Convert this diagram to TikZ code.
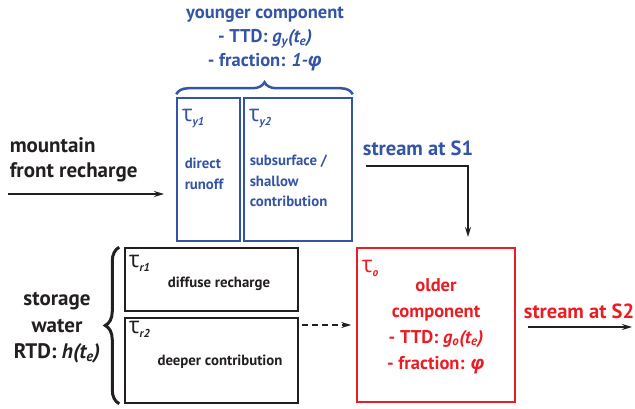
\documentclass[tikz,border=0pt]{standalone}
\usepackage{fontspec}
\setmainfont{PT Sans}
\newfontfamily\grkfont{Open Sans}
\usetikzlibrary{arrows.meta,decorations.pathreplacing}
\definecolor{ybl}{RGB}{52,84,165}
\definecolor{ored}{RGB}{236,28,36}
\definecolor{ink}{RGB}{35,31,32}
\newcommand{\taulab}[1]{{\grkfont\mdseries\fontsize{23}{23}\selectfont τ}\raisebox{-4pt}{\fontsize{11.5}{11.5}\selectfont\bfseries\itshape #1}}
\newcommand{\phisym}{{\grkfont\bfseries\itshape φ}}

\begin{document}
\begin{tikzpicture}[x=1pt,y=-1pt,->,>={Stealth[length=10pt,width=6pt]},shorten >=1pt,
                line width=1.5pt,
                txt/.style={font=\fontsize{18.5}{24.5}\selectfont\bfseries,align=center,inner sep=0pt},
                small/.style={font=\fontsize{14.8}{20.5}\selectfont\bfseries,inner sep=0pt},
                box/.style={draw,line width=1.5pt,minimum width=#1,inner sep=0pt},
                tau/.style={anchor=base west,inner sep=0pt}]
  \useasboundingbox (0,0) rectangle (635,409);

  \node[box=63pt,minimum height=143pt,draw=ybl] (y1) at (208.5,169.5) {};
  \node[box=108pt,minimum height=143pt,draw=ybl] (y2) at (298,169.5) {};
  \node[box=173pt,minimum height=63pt,draw=ink] (r1) at (211.5,279.5) {};
  \node[box=173pt,minimum height=85pt,draw=ink] (r2) at (211.5,360.5) {};
  \node[box=158pt,minimum height=154pt,draw=ored] (old) at (436,325) {};

  \node[tau,text=ybl] (ty1) at (181,122) {\taulab{y1}};
  \node[tau,text=ybl] (ty2) at (248,122) {\taulab{y2}};
  \node[tau,text=ink] (tr1) at (128,267) {\taulab{r1}};
  \node[tau,text=ink] (tr2) at (128,333) {\taulab{r2}};
  \node[tau,text=ored] (to) at (361,272) {\taulab{o}};

  \node[small,text=ybl,align=left,anchor=west] (runoff) at (184,174) {direct\\runoff};
  \node[small,text=ybl,align=left,anchor=west] (shallow) at (249,181) {subsurface /\\shallow\\contribution};
  \node[small,text=ink] (diffuse) at (219,284) {diffuse recharge};
  \node[small,text=ink] (deeper) at (220,362) {deeper contribution};

  \node[txt,text=ybl,font=\fontsize{18.5}{24}\selectfont\bfseries] (young) at (265,39)
    {younger component\\- TTD: \textit{g\textsubscript{y}(t\textsubscript{e})}\\- fraction: \textit{1-\phisym}};
  \node[txt,text=ored,font=\fontsize{18.5}{26}\selectfont\bfseries] (oldtxt) at (436,326)
    {older\\component\\- TTD: \textit{g\textsubscript{o}(t\textsubscript{e})}\\- fraction: \phisym};
  \node[txt,text=ink,font=\fontsize{21}{26.5}\selectfont\bfseries] (storage) at (57,328)
    {storage\\water\\RTD: \textit{h(t\textsubscript{e})}};
  \node[txt,text=ink,align=left,anchor=west,font=\fontsize{21}{25}\selectfont\bfseries] (mount) at (9,160)
    {mountain\\front recharge};
  \node[txt,text=ybl,font=\fontsize{20.5}{24}\selectfont\bfseries] (s1) at (418,148) {stream at S1};
  \node[txt,text=ored,font=\fontsize{20.5}{24}\selectfont\bfseries] (s2) at (579,311) {stream at S2};

  \coordinate (mfa) at (8,194);
  \coordinate (mfb) at (165,194);
  \coordinate (s1a) at (366,166);
  \coordinate (s1b) at (468,238);
  \coordinate (s2a) at (528,327);
  \coordinate (s2b) at (633,327);

  \draw[ink] (mfa) -- (mfb);
  \draw[ink] (s1a) -| (s1b);
  \draw[ink] (s2a) -- (s2b);
  \draw[ink,dash pattern=on 6pt off 4pt,shorten <=3pt,shorten >=5pt] (r2.east |- old.west) -- (old.west);

  \draw[-,shorten >=0pt,ybl,line width=2.5pt,decorate,decoration={brace,amplitude=12pt}]
    ([yshift=3pt]y1.north west) -- ([yshift=3pt]y2.north east);
  \draw[-,shorten >=0pt,ink,line width=3pt,decorate,decoration={brace,amplitude=14pt}]
    ([xshift=-5pt]r2.south west) -- ([xshift=-5pt]r1.north west);
\end{tikzpicture}
\end{document}
